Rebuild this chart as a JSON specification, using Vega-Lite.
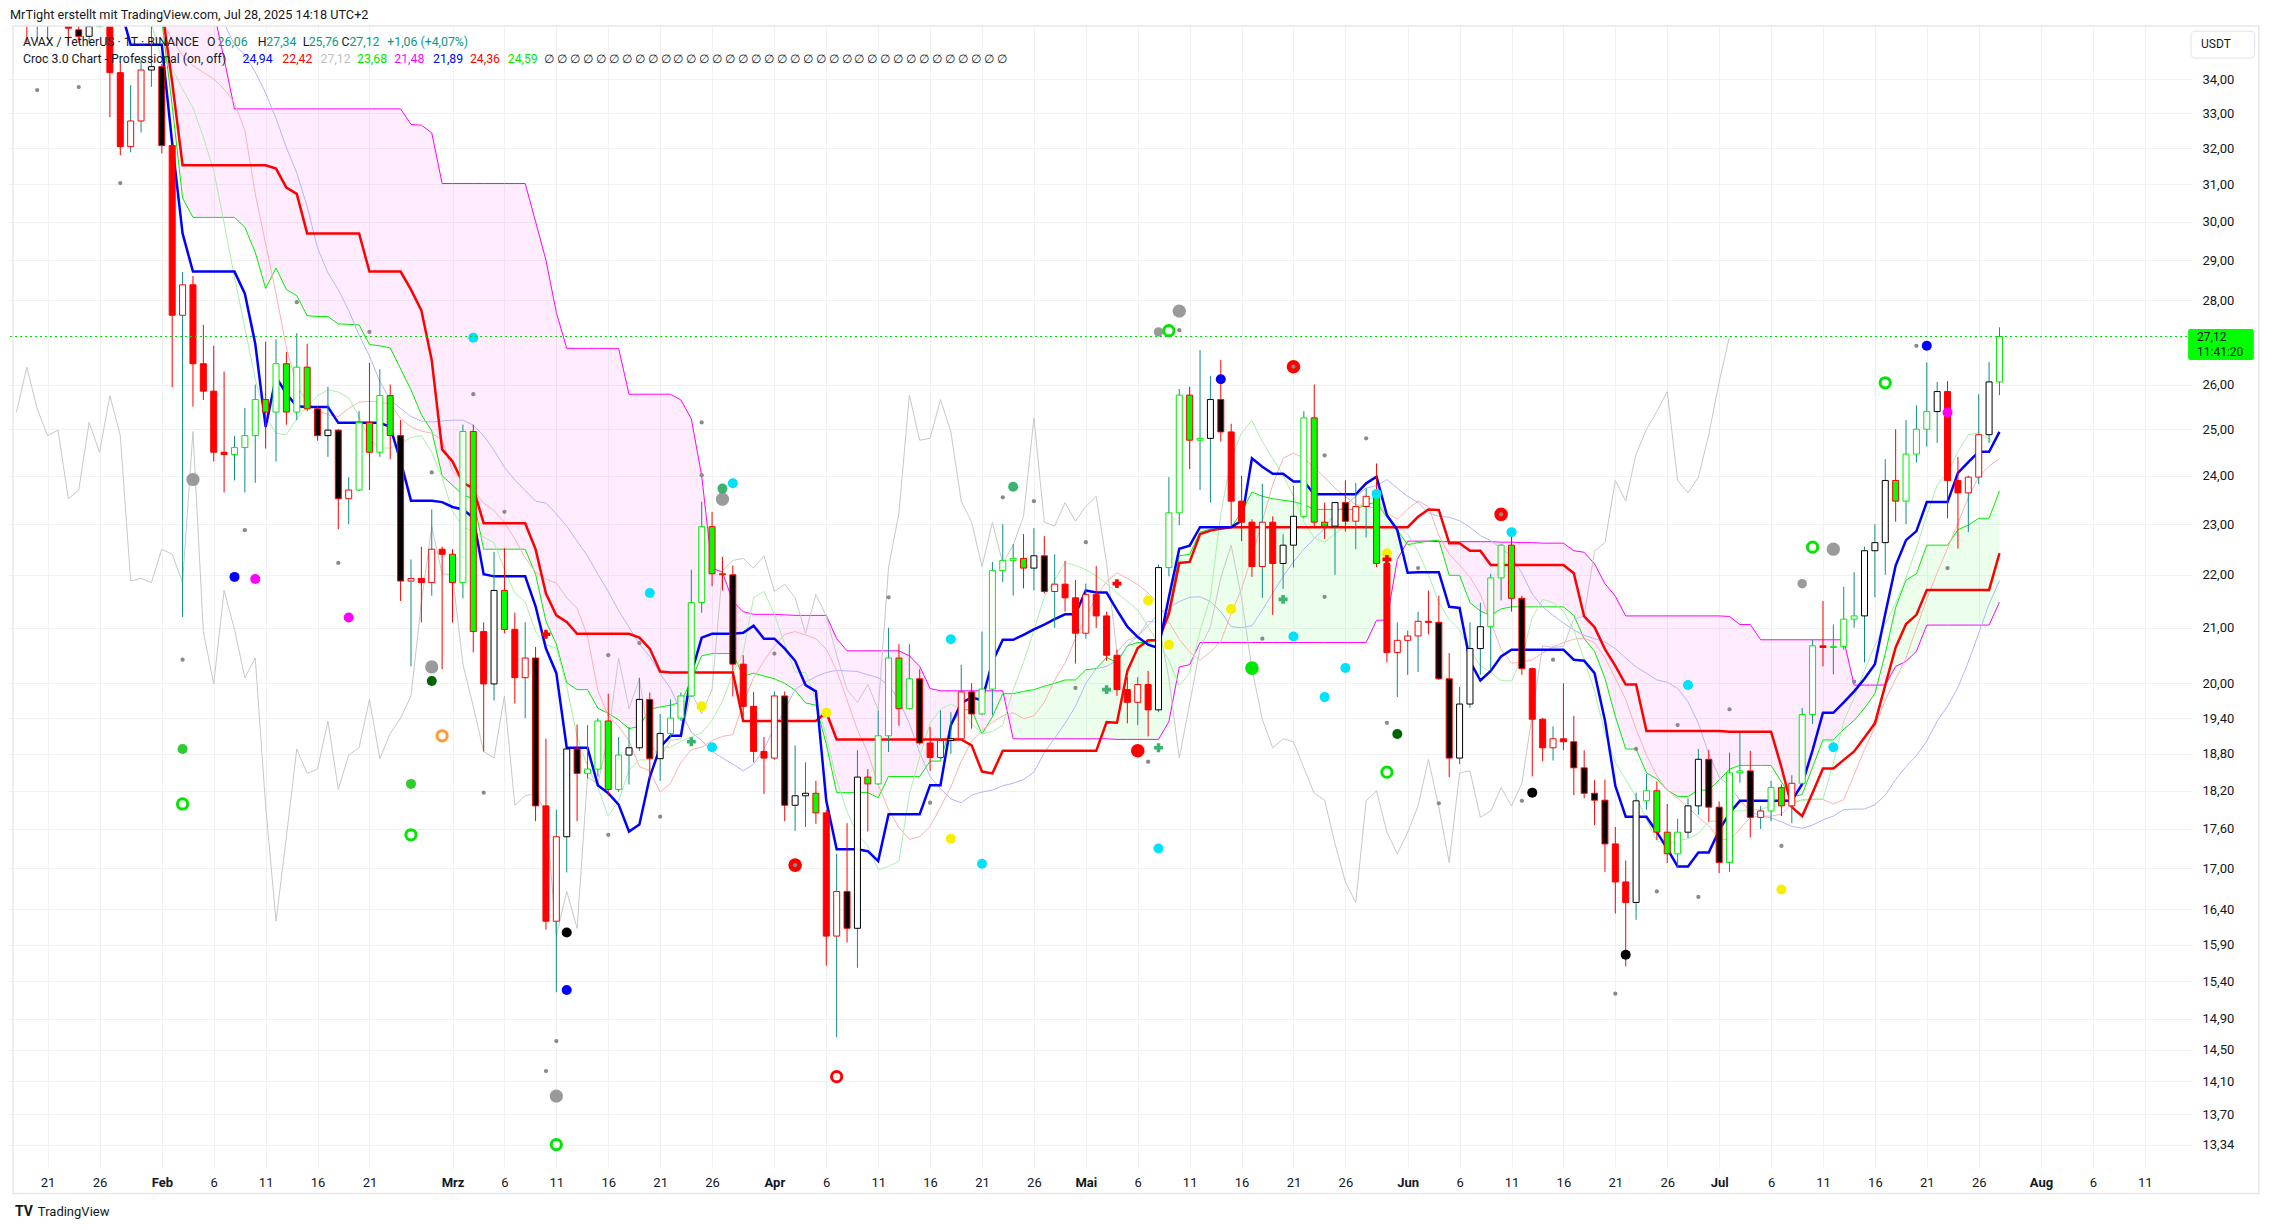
{
"$schema": "https://vega.github.io/schema/vega-lite/v6.json",
"width": 2184,
"height": 1141,
"autosize": {"type": "none"},
"padding": {"left": 8, "top": 26, "right": 82, "bottom": 63},
"background": "#ffffff",
"config": {"view": {"stroke": null}, "font": "Roboto"},
"resolve": {"scale": {"color": "independent"}},
"title": {"text": "MrTight erstellt mit TradingView.com, Jul 28, 2025 14:18 UTC+2", "anchor": "start", "frame": "group", "fontSize": 12.7, "fontWeight": "normal", "color": "#131722", "font": "Roboto", "offset": 4, "dx": 2},
"datasets": {
"c": [
{"d":"2025-01-17","o":38.0,"h":39.5,"l":36.6,"c":38.6,"s":"g"},
{"d":"2025-01-18","o":38.6,"h":38.9,"l":36.0,"c":36.9,"s":"R"},
{"d":"2025-01-19","o":36.9,"h":37.5,"l":35.1,"c":35.9,"s":"R"},
{"d":"2025-01-20","o":35.9,"h":37.5,"l":35.1,"c":36.6,"s":"g"},
{"d":"2025-01-21","o":36.6,"h":37.8,"l":35.2,"c":37.0,"s":"g"},
{"d":"2025-01-22","o":37.0,"h":37.3,"l":35.8,"c":36.0,"s":"R"},
{"d":"2025-01-23","o":36.0,"h":36.4,"l":35.1,"c":35.55,"s":"R"},
{"d":"2025-01-24","o":35.5,"h":36.0,"l":35.1,"c":35.3,"s":"K"},
{"d":"2025-01-25","o":35.3,"h":36.2,"l":35.1,"c":35.6,"s":"k"},
{"d":"2025-01-26","o":35.6,"h":36.8,"l":35.58,"c":36.4,"s":"g"},
{"d":"2025-01-27","o":36.4,"h":36.8,"l":32.88,"c":34.19,"s":"R"},
{"d":"2025-01-28","o":34.19,"h":34.5,"l":31.8,"c":32.04,"s":"R"},
{"d":"2025-01-29","o":32.04,"h":33.82,"l":31.88,"c":32.77,"s":"r"},
{"d":"2025-01-30","o":32.77,"h":34.58,"l":32.44,"c":34.27,"s":"r"},
{"d":"2025-01-31","o":34.27,"h":35.9,"l":33.77,"c":34.37,"s":"k"},
{"d":"2025-02-01","o":34.37,"h":34.45,"l":31.85,"c":32.07,"s":"K"},
{"d":"2025-02-02","o":32.07,"h":32.1,"l":25.94,"c":27.63,"s":"R"},
{"d":"2025-02-03","o":27.63,"h":28.7,"l":21.2,"c":28.38,"s":"r"},
{"d":"2025-02-04","o":28.38,"h":28.6,"l":25.5,"c":26.48,"s":"R"},
{"d":"2025-02-05","o":26.48,"h":27.4,"l":25.65,"c":25.85,"s":"R"},
{"d":"2025-02-06","o":25.85,"h":26.9,"l":24.3,"c":24.5,"s":"R"},
{"d":"2025-02-07","o":24.5,"h":26.3,"l":23.65,"c":24.45,"s":"R"},
{"d":"2025-02-08","o":24.45,"h":24.85,"l":23.9,"c":24.6,"s":"g"},
{"d":"2025-02-09","o":24.6,"h":25.47,"l":23.65,"c":24.86,"s":"g"},
{"d":"2025-02-10","o":24.86,"h":26.0,"l":23.85,"c":25.66,"s":"g"},
{"d":"2025-02-11","o":25.66,"h":27.0,"l":24.58,"c":25.38,"s":"G"},
{"d":"2025-02-12","o":25.38,"h":27.05,"l":24.3,"c":26.48,"s":"g"},
{"d":"2025-02-13","o":26.48,"h":26.75,"l":25.1,"c":25.38,"s":"G"},
{"d":"2025-02-14","o":25.38,"h":27.2,"l":25.2,"c":26.4,"s":"g"},
{"d":"2025-02-15","o":26.4,"h":26.95,"l":25.4,"c":25.45,"s":"G"},
{"d":"2025-02-16","o":25.45,"h":25.5,"l":24.75,"c":24.86,"s":"K"},
{"d":"2025-02-17","o":24.86,"h":25.95,"l":24.4,"c":24.98,"s":"k"},
{"d":"2025-02-18","o":24.98,"h":25.0,"l":22.9,"c":23.52,"s":"K"},
{"d":"2025-02-19","o":23.52,"h":23.97,"l":23.0,"c":23.7,"s":"r"},
{"d":"2025-02-20","o":23.7,"h":25.4,"l":23.68,"c":25.15,"s":"g"},
{"d":"2025-02-21","o":25.15,"h":26.5,"l":23.7,"c":24.5,"s":"G"},
{"d":"2025-02-22","o":24.5,"h":26.35,"l":24.4,"c":25.75,"s":"g"},
{"d":"2025-02-23","o":25.75,"h":26.0,"l":24.35,"c":24.86,"s":"G"},
{"d":"2025-02-24","o":24.86,"h":25.2,"l":21.5,"c":21.88,"s":"K"},
{"d":"2025-02-25","o":21.88,"h":22.3,"l":20.3,"c":21.93,"s":"r"},
{"d":"2025-02-26","o":21.93,"h":22.55,"l":21.1,"c":21.85,"s":"R"},
{"d":"2025-02-27","o":21.85,"h":23.3,"l":21.6,"c":22.5,"s":"r"},
{"d":"2025-02-28","o":22.5,"h":22.55,"l":20.25,"c":22.4,"s":"R"},
{"d":"2025-03-01","o":22.4,"h":22.5,"l":21.1,"c":21.85,"s":"G"},
{"d":"2025-03-02","o":21.85,"h":25.1,"l":21.55,"c":24.95,"s":"g"},
{"d":"2025-03-03","o":24.95,"h":25.1,"l":20.55,"c":20.93,"s":"G"},
{"d":"2025-03-04","o":20.93,"h":21.1,"l":18.84,"c":19.99,"s":"R"},
{"d":"2025-03-05","o":19.99,"h":22.45,"l":19.7,"c":21.7,"s":"k"},
{"d":"2025-03-06","o":21.7,"h":22.52,"l":20.9,"c":20.97,"s":"G"},
{"d":"2025-03-07","o":20.97,"h":21.28,"l":19.65,"c":20.1,"s":"R"},
{"d":"2025-03-08","o":20.1,"h":21.1,"l":19.4,"c":20.45,"s":"r"},
{"d":"2025-03-09","o":20.45,"h":20.65,"l":17.72,"c":17.96,"s":"K"},
{"d":"2025-03-10","o":17.96,"h":19.05,"l":16.11,"c":16.23,"s":"R"},
{"d":"2025-03-11","o":16.23,"h":17.9,"l":15.25,"c":17.48,"s":"r"},
{"d":"2025-03-12","o":17.48,"h":18.88,"l":16.94,"c":18.88,"s":"k"},
{"d":"2025-03-13","o":18.88,"h":19.29,"l":17.72,"c":18.48,"s":"K"},
{"d":"2025-03-14","o":18.48,"h":19.28,"l":18.4,"c":18.55,"s":"g"},
{"d":"2025-03-15","o":18.55,"h":19.4,"l":18.43,"c":19.35,"s":"g"},
{"d":"2025-03-16","o":19.35,"h":19.82,"l":18.12,"c":18.22,"s":"G"},
{"d":"2025-03-17","o":18.22,"h":19.08,"l":18.18,"c":18.78,"s":"g"},
{"d":"2025-03-18","o":18.78,"h":19.25,"l":18.3,"c":18.9,"s":"k"},
{"d":"2025-03-19","o":18.9,"h":20.1,"l":18.85,"c":19.72,"s":"k"},
{"d":"2025-03-20","o":19.72,"h":19.84,"l":18.39,"c":18.72,"s":"K"},
{"d":"2025-03-21","o":18.72,"h":19.47,"l":18.36,"c":19.14,"s":"k"},
{"d":"2025-03-22","o":19.14,"h":19.72,"l":19.08,"c":19.4,"s":"g"},
{"d":"2025-03-23","o":19.4,"h":19.84,"l":19.35,"c":19.78,"s":"g"},
{"d":"2025-03-24","o":19.78,"h":22.1,"l":19.76,"c":21.47,"s":"g"},
{"d":"2025-03-25","o":21.47,"h":23.46,"l":21.28,"c":22.95,"s":"g"},
{"d":"2025-03-26","o":22.95,"h":23.25,"l":21.78,"c":22.02,"s":"G"},
{"d":"2025-03-27","o":22.02,"h":22.35,"l":21.7,"c":22.0,"s":"G"},
{"d":"2025-03-28","o":22.0,"h":22.18,"l":19.77,"c":20.34,"s":"K"},
{"d":"2025-03-29","o":20.34,"h":20.5,"l":19.43,"c":19.6,"s":"R"},
{"d":"2025-03-30","o":19.6,"h":19.85,"l":18.66,"c":18.84,"s":"R"},
{"d":"2025-03-31","o":18.84,"h":19.08,"l":18.15,"c":18.73,"s":"R"},
{"d":"2025-04-01","o":18.73,"h":19.86,"l":18.7,"c":19.78,"s":"r"},
{"d":"2025-04-02","o":19.78,"h":19.86,"l":17.72,"c":17.97,"s":"K"},
{"d":"2025-04-03","o":17.97,"h":18.94,"l":17.57,"c":18.12,"s":"k"},
{"d":"2025-04-04","o":18.12,"h":18.66,"l":17.63,"c":18.16,"s":"k"},
{"d":"2025-04-05","o":18.16,"h":18.36,"l":17.68,"c":17.85,"s":"G"},
{"d":"2025-04-06","o":17.85,"h":17.9,"l":15.61,"c":16.02,"s":"R"},
{"d":"2025-04-07","o":16.02,"h":17.22,"l":14.66,"c":16.66,"s":"r"},
{"d":"2025-04-08","o":16.66,"h":17.69,"l":15.93,"c":16.13,"s":"K"},
{"d":"2025-04-09","o":16.13,"h":18.86,"l":15.58,"c":18.42,"s":"k"},
{"d":"2025-04-10","o":18.42,"h":18.55,"l":17.56,"c":18.31,"s":"G"},
{"d":"2025-04-11","o":18.31,"h":19.53,"l":18.3,"c":19.1,"s":"g"},
{"d":"2025-04-12","o":19.1,"h":21.0,"l":18.83,"c":20.45,"s":"g"},
{"d":"2025-04-13","o":20.45,"h":20.7,"l":19.27,"c":19.56,"s":"G"},
{"d":"2025-04-14","o":19.56,"h":20.7,"l":19.55,"c":20.08,"s":"g"},
{"d":"2025-04-15","o":20.08,"h":20.25,"l":18.95,"c":18.98,"s":"K"},
{"d":"2025-04-16","o":18.98,"h":19.25,"l":18.52,"c":18.74,"s":"R"},
{"d":"2025-04-17","o":18.74,"h":19.53,"l":18.72,"c":19.02,"s":"r"},
{"d":"2025-04-18","o":19.02,"h":19.5,"l":18.8,"c":19.05,"s":"k"},
{"d":"2025-04-19","o":19.05,"h":20.33,"l":19.02,"c":19.85,"s":"r"},
{"d":"2025-04-20","o":19.85,"h":20.0,"l":19.22,"c":19.47,"s":"K"},
{"d":"2025-04-21","o":19.47,"h":20.93,"l":19.45,"c":19.9,"s":"g"},
{"d":"2025-04-22","o":19.9,"h":22.25,"l":19.45,"c":22.08,"s":"g"},
{"d":"2025-04-23","o":22.08,"h":23.0,"l":21.86,"c":22.28,"s":"g"},
{"d":"2025-04-24","o":22.28,"h":22.6,"l":21.6,"c":22.32,"s":"g"},
{"d":"2025-04-25","o":22.32,"h":22.8,"l":21.74,"c":22.13,"s":"G"},
{"d":"2025-04-26","o":22.13,"h":22.92,"l":21.7,"c":22.37,"s":"k"},
{"d":"2025-04-27","o":22.37,"h":22.76,"l":21.64,"c":21.68,"s":"K"},
{"d":"2025-04-28","o":21.68,"h":22.4,"l":21.0,"c":21.82,"s":"r"},
{"d":"2025-04-29","o":21.82,"h":22.27,"l":21.3,"c":21.56,"s":"R"},
{"d":"2025-04-30","o":21.56,"h":21.9,"l":20.35,"c":20.9,"s":"R"},
{"d":"2025-05-01","o":20.9,"h":21.83,"l":20.8,"c":21.62,"s":"r"},
{"d":"2025-05-02","o":21.62,"h":22.17,"l":21.0,"c":21.22,"s":"R"},
{"d":"2025-05-03","o":21.22,"h":21.3,"l":20.4,"c":20.5,"s":"R"},
{"d":"2025-05-04","o":20.5,"h":20.6,"l":19.78,"c":19.89,"s":"R"},
{"d":"2025-05-05","o":19.89,"h":20.11,"l":19.31,"c":19.67,"s":"R"},
{"d":"2025-05-06","o":19.67,"h":20.11,"l":19.28,"c":19.98,"s":"r"},
{"d":"2025-05-07","o":19.98,"h":20.22,"l":19.09,"c":19.54,"s":"R"},
{"d":"2025-05-08","o":19.54,"h":22.2,"l":19.5,"c":22.14,"s":"k"},
{"d":"2025-05-09","o":22.14,"h":23.97,"l":21.97,"c":23.23,"s":"g"},
{"d":"2025-05-10","o":23.23,"h":25.9,"l":22.98,"c":25.76,"s":"g"},
{"d":"2025-05-11","o":25.76,"h":25.95,"l":24.14,"c":24.76,"s":"G"},
{"d":"2025-05-12","o":24.76,"h":26.8,"l":23.7,"c":24.8,"s":"g"},
{"d":"2025-05-13","o":24.8,"h":26.2,"l":23.44,"c":25.66,"s":"k"},
{"d":"2025-05-14","o":25.66,"h":26.57,"l":24.73,"c":24.94,"s":"K"},
{"d":"2025-05-15","o":24.94,"h":25.12,"l":22.98,"c":23.47,"s":"R"},
{"d":"2025-05-16","o":23.47,"h":24.0,"l":22.66,"c":23.04,"s":"R"},
{"d":"2025-05-17","o":23.04,"h":23.1,"l":21.96,"c":22.16,"s":"R"},
{"d":"2025-05-18","o":22.16,"h":23.83,"l":21.56,"c":23.04,"s":"r"},
{"d":"2025-05-19","o":23.04,"h":23.16,"l":21.24,"c":22.22,"s":"R"},
{"d":"2025-05-20","o":22.22,"h":22.8,"l":21.73,"c":22.58,"s":"k"},
{"d":"2025-05-21","o":22.58,"h":23.79,"l":22.14,"c":23.16,"s":"k"},
{"d":"2025-05-22","o":23.16,"h":25.4,"l":23.12,"c":25.25,"s":"g"},
{"d":"2025-05-23","o":25.25,"h":26.0,"l":22.94,"c":23.04,"s":"G"},
{"d":"2025-05-24","o":23.04,"h":23.44,"l":22.7,"c":22.96,"s":"G"},
{"d":"2025-05-25","o":22.96,"h":23.45,"l":22.0,"c":23.44,"s":"k"},
{"d":"2025-05-26","o":23.44,"h":23.9,"l":22.85,"c":23.06,"s":"K"},
{"d":"2025-05-27","o":23.06,"h":23.85,"l":22.5,"c":23.36,"s":"r"},
{"d":"2025-05-28","o":23.36,"h":23.74,"l":22.73,"c":23.57,"s":"r"},
{"d":"2025-05-29","o":23.57,"h":24.26,"l":22.15,"c":22.22,"s":"G"},
{"d":"2025-05-30","o":22.22,"h":22.33,"l":20.37,"c":20.55,"s":"R"},
{"d":"2025-05-31","o":20.55,"h":21.1,"l":19.76,"c":20.77,"s":"r"},
{"d":"2025-06-01","o":20.77,"h":20.95,"l":20.15,"c":20.85,"s":"r"},
{"d":"2025-06-02","o":20.85,"h":21.3,"l":20.2,"c":21.12,"s":"r"},
{"d":"2025-06-03","o":21.12,"h":21.7,"l":20.88,"c":21.1,"s":"R"},
{"d":"2025-06-04","o":21.1,"h":21.6,"l":20.06,"c":20.08,"s":"K"},
{"d":"2025-06-05","o":20.08,"h":20.54,"l":18.42,"c":18.73,"s":"K"},
{"d":"2025-06-06","o":18.73,"h":19.94,"l":18.63,"c":19.64,"s":"k"},
{"d":"2025-06-07","o":19.64,"h":21.1,"l":19.57,"c":20.62,"s":"k"},
{"d":"2025-06-08","o":20.62,"h":21.47,"l":20.15,"c":21.02,"s":"k"},
{"d":"2025-06-09","o":21.02,"h":22.02,"l":20.24,"c":21.94,"s":"g"},
{"d":"2025-06-10","o":21.94,"h":22.6,"l":21.51,"c":22.58,"s":"g"},
{"d":"2025-06-11","o":22.58,"h":22.8,"l":21.3,"c":21.55,"s":"G"},
{"d":"2025-06-12","o":21.55,"h":21.6,"l":20.15,"c":20.26,"s":"K"},
{"d":"2025-06-13","o":20.26,"h":20.28,"l":18.43,"c":19.38,"s":"R"},
{"d":"2025-06-14","o":19.38,"h":19.4,"l":18.68,"c":18.9,"s":"R"},
{"d":"2025-06-15","o":18.9,"h":19.26,"l":18.69,"c":19.05,"s":"r"},
{"d":"2025-06-16","o":19.05,"h":20.0,"l":18.86,"c":19.0,"s":"R"},
{"d":"2025-06-17","o":19.0,"h":19.44,"l":18.13,"c":18.57,"s":"K"},
{"d":"2025-06-18","o":18.57,"h":18.86,"l":18.08,"c":18.16,"s":"K"},
{"d":"2025-06-19","o":18.16,"h":18.37,"l":17.66,"c":18.05,"s":"K"},
{"d":"2025-06-20","o":18.05,"h":18.38,"l":16.95,"c":17.37,"s":"K"},
{"d":"2025-06-21","o":17.37,"h":17.63,"l":16.34,"c":16.8,"s":"R"},
{"d":"2025-06-22","o":16.8,"h":17.12,"l":15.6,"c":16.5,"s":"R"},
{"d":"2025-06-23","o":16.5,"h":18.17,"l":16.25,"c":18.04,"s":"k"},
{"d":"2025-06-24","o":18.04,"h":18.47,"l":17.9,"c":18.2,"s":"g"},
{"d":"2025-06-25","o":18.2,"h":18.35,"l":17.43,"c":17.55,"s":"G"},
{"d":"2025-06-26","o":17.55,"h":17.99,"l":17.08,"c":17.22,"s":"G"},
{"d":"2025-06-27","o":17.22,"h":17.76,"l":17.02,"c":17.55,"s":"g"},
{"d":"2025-06-28","o":17.55,"h":18.08,"l":17.46,"c":17.96,"s":"k"},
{"d":"2025-06-29","o":17.96,"h":18.88,"l":17.82,"c":18.71,"s":"k"},
{"d":"2025-06-30","o":18.71,"h":18.86,"l":17.71,"c":17.94,"s":"K"},
{"d":"2025-07-01","o":17.94,"h":18.03,"l":16.93,"c":17.09,"s":"K"},
{"d":"2025-07-02","o":17.09,"h":18.82,"l":16.95,"c":18.49,"s":"g"},
{"d":"2025-07-03","o":18.49,"h":19.15,"l":18.33,"c":18.52,"s":"g"},
{"d":"2025-07-04","o":18.52,"h":18.85,"l":17.47,"c":17.78,"s":"K"},
{"d":"2025-07-05","o":17.78,"h":17.96,"l":17.6,"c":17.88,"s":"r"},
{"d":"2025-07-06","o":17.88,"h":18.36,"l":17.72,"c":18.25,"s":"g"},
{"d":"2025-07-07","o":18.25,"h":18.3,"l":17.8,"c":17.96,"s":"G"},
{"d":"2025-07-08","o":17.96,"h":18.45,"l":17.69,"c":18.32,"s":"r"},
{"d":"2025-07-09","o":18.32,"h":19.57,"l":18.3,"c":19.46,"s":"g"},
{"d":"2025-07-10","o":19.46,"h":20.78,"l":19.3,"c":20.67,"s":"g"},
{"d":"2025-07-11","o":20.67,"h":21.5,"l":20.3,"c":20.64,"s":"R"},
{"d":"2025-07-12","o":20.64,"h":21.06,"l":20.16,"c":20.66,"s":"g"},
{"d":"2025-07-13","o":20.66,"h":21.77,"l":20.6,"c":21.16,"s":"g"},
{"d":"2025-07-14","o":21.16,"h":22.05,"l":21.0,"c":21.22,"s":"g"},
{"d":"2025-07-15","o":21.22,"h":22.55,"l":20.37,"c":22.47,"s":"k"},
{"d":"2025-07-16","o":22.47,"h":23.0,"l":21.57,"c":22.63,"s":"k"},
{"d":"2025-07-17","o":22.63,"h":24.35,"l":22.0,"c":23.9,"s":"k"},
{"d":"2025-07-18","o":23.9,"h":25.0,"l":23.05,"c":23.47,"s":"G"},
{"d":"2025-07-19","o":23.47,"h":25.2,"l":23.0,"c":24.46,"s":"g"},
{"d":"2025-07-20","o":24.46,"h":25.53,"l":24.28,"c":25.0,"s":"g"},
{"d":"2025-07-21","o":25.0,"h":26.51,"l":24.62,"c":25.39,"s":"g"},
{"d":"2025-07-22","o":25.39,"h":26.06,"l":24.7,"c":25.84,"s":"k"},
{"d":"2025-07-23","o":25.84,"h":26.08,"l":23.12,"c":23.9,"s":"R"},
{"d":"2025-07-24","o":23.9,"h":24.4,"l":22.51,"c":23.64,"s":"R"},
{"d":"2025-07-25","o":23.64,"h":24.0,"l":22.84,"c":23.97,"s":"r"},
{"d":"2025-07-26","o":23.97,"h":25.78,"l":23.82,"c":24.88,"s":"r"},
{"d":"2025-07-27","o":24.88,"h":26.52,"l":24.7,"c":26.06,"s":"k"},
{"d":"2025-07-28","o":26.06,"h":27.34,"l":25.76,"c":27.12,"s":"g"}
],
"ln": [
{"d":"2025-01-17","tk":37,"kj":37.5,"sa":37,"sb":39,"lr":37.5,"lg":37,"lv":38.5,"g":1},
{"d":"2025-01-18","tk":37,"kj":37.5,"sa":37,"sb":39,"lr":37.5,"lg":37,"lv":38.5,"lag":25.38,"g":1},
{"d":"2025-01-19","tk":37,"kj":37.5,"sa":37,"sb":39,"lr":37.5,"lg":37,"lv":38.5,"lag":26.4,"g":1},
{"d":"2025-01-20","tk":37,"kj":37.5,"sa":37,"sb":39,"lr":37.5,"lg":37,"lv":38.5,"lag":25.45,"g":1},
{"d":"2025-01-21","tk":37,"kj":37.5,"sa":37,"sb":39,"lr":37.5,"lg":37,"lv":38.5,"lag":24.86,"g":1},
{"d":"2025-01-22","tk":37,"kj":37.5,"sa":37,"sb":39,"lr":37.5,"lg":37,"lv":38.5,"lag":24.98,"g":1},
{"d":"2025-01-23","tk":37,"kj":37.5,"sa":37,"sb":39,"lr":37.5,"lg":37,"lv":38.5,"lag":23.52,"g":1},
{"d":"2025-01-24","tk":37,"kj":37.5,"sa":37,"sb":39,"lr":37.5,"lg":37,"lv":38.5,"lag":23.7,"g":1},
{"d":"2025-01-25","tk":37,"kj":37.5,"sa":37,"sb":39,"lr":37.5,"lg":37,"lv":38.5,"lag":25.15,"g":1},
{"d":"2025-01-26","tk":37,"kj":37.5,"sa":37,"sb":39,"lr":37.5,"lg":37,"lv":38.5,"lag":24.5,"g":1},
{"d":"2025-01-27","tk":36.8,"kj":37.5,"sa":37,"sb":39,"lr":37.5,"lg":37,"lv":38.5,"lag":25.75,"g":1},
{"d":"2025-01-28","tk":36.2,"kj":37.5,"sa":37,"sb":39,"lr":37.5,"lg":37,"lv":38.5,"lag":24.86,"g":1},
{"d":"2025-01-29","tk":35.04,"kj":37.5,"sa":37,"sb":39,"lr":37.5,"lg":37,"lv":38.5,"lag":21.88,"g":1},
{"d":"2025-01-30","tk":35.04,"kj":37.5,"sa":37,"sb":39,"lr":37.5,"lg":37,"lv":38.5,"lag":21.93,"g":1},
{"d":"2025-01-31","tk":35.04,"kj":37.5,"sa":37,"sb":39,"lr":37.5,"lg":35.7,"lv":38.5,"lag":21.85,"g":1},
{"d":"2025-02-01","tk":35.04,"kj":36.2,"sa":35.8,"sb":39,"lr":35.8,"lg":34.6,"lv":37.5,"lag":22.5,"g":1},
{"d":"2025-02-02","tk":32.13,"kj":33.9,"sa":33.21,"sb":39,"lr":35.2,"lg":34.3,"lv":37.2,"lag":22.4,"g":1},
{"d":"2025-02-03","tk":29.69,"kj":31.52,"sa":30.63,"sb":38.5,"lr":34.7,"lg":33.71,"lv":36.9,"lag":21.85,"g":1},
{"d":"2025-02-04","tk":28.71,"kj":31.52,"sa":30.11,"sb":38,"lr":34.4,"lg":33.15,"lv":36.6,"lag":24.95,"g":1},
{"d":"2025-02-05","tk":28.71,"kj":31.52,"sa":30.11,"sb":37.5,"lr":34.2,"lg":32.31,"lv":36.4,"lag":20.93,"g":1},
{"d":"2025-02-06","tk":28.71,"kj":31.52,"sa":30.11,"sb":36.1,"lr":34.0,"lg":31.37,"lv":36.2,"lag":19.99,"g":1},
{"d":"2025-02-07","tk":28.71,"kj":31.52,"sa":30.11,"sb":34.6,"lr":33.7,"lg":29.96,"lv":35.7,"lag":21.7,"g":1},
{"d":"2025-02-08","tk":28.71,"kj":31.52,"sa":30.11,"sb":33.12,"lr":33.3,"lg":28.57,"lv":35.04,"lag":20.97,"g":1},
{"d":"2025-02-09","tk":28.16,"kj":31.52,"sa":29.85,"sb":33.12,"lr":32.5,"lg":27.33,"lv":34.72,"lag":20.1,"g":1},
{"d":"2025-02-10","tk":26.95,"kj":31.52,"sa":29.2,"sb":33.12,"lr":30.74,"lg":26.12,"lv":34.21,"lag":20.45,"g":1},
{"d":"2025-02-11","tk":25.05,"kj":31.52,"sa":28.29,"sb":33.12,"lr":29.42,"lg":25.28,"lv":33.58,"lag":17.96,"g":1},
{"d":"2025-02-12","tk":26.17,"kj":31.43,"sa":28.8,"sb":33.12,"lr":28.16,"lg":24.91,"lv":32.85,"lag":16.23,"g":1},
{"d":"2025-02-13","tk":25.79,"kj":30.91,"sa":28.26,"sb":33.12,"lr":26.85,"lg":24.88,"lv":32.01,"lag":17.48,"g":1},
{"d":"2025-02-14","tk":25.51,"kj":30.74,"sa":28.11,"sb":33.12,"lr":25.98,"lg":25.23,"lv":31.31,"lag":18.88,"g":1},
{"d":"2025-02-15","tk":25.49,"kj":29.69,"sa":27.62,"sb":33.12,"lr":25.6,"lg":25.51,"lv":30.4,"lag":18.48,"g":1},
{"d":"2025-02-16","tk":25.49,"kj":29.69,"sa":27.6,"sb":33.12,"lr":25.42,"lg":25.74,"lv":29.31,"lag":18.55,"g":1},
{"d":"2025-02-17","tk":25.49,"kj":29.69,"sa":27.6,"sb":33.12,"lr":25.32,"lg":25.88,"lv":28.68,"lag":19.35,"g":1},
{"d":"2025-02-18","tk":25.14,"kj":29.69,"sa":27.42,"sb":33.12,"lr":25.28,"lg":25.83,"lv":28.26,"lag":18.22,"g":1},
{"d":"2025-02-19","tk":25.14,"kj":29.69,"sa":27.41,"sb":33.12,"lr":25.46,"lg":25.7,"lv":27.75,"lag":18.78,"g":1},
{"d":"2025-02-20","tk":25.14,"kj":29.69,"sa":27.4,"sb":33.12,"lr":25.6,"lg":25.28,"lv":27.15,"lag":18.9,"g":1},
{"d":"2025-02-21","tk":25.14,"kj":28.71,"sa":26.93,"sb":33.12,"lr":25.62,"lg":24.77,"lv":26.66,"lag":19.72,"g":1},
{"d":"2025-02-22","tk":25.14,"kj":28.71,"sa":26.9,"sb":33.12,"lr":25.6,"lg":24.59,"lv":26.07,"lag":18.72,"g":1},
{"d":"2025-02-23","tk":25.05,"kj":28.71,"sa":26.85,"sb":33.12,"lr":25.56,"lg":24.59,"lv":25.65,"lag":19.14,"g":1},
{"d":"2025-02-24","tk":24.31,"kj":28.71,"sa":26.36,"sb":33.12,"lr":25.23,"lg":24.68,"lv":25.46,"lag":19.4,"g":1},
{"d":"2025-02-25","tk":23.48,"kj":28.26,"sa":25.88,"sb":32.67,"lr":25.05,"lg":24.82,"lv":25.28,"lag":19.78,"g":1},
{"d":"2025-02-26","tk":23.48,"kj":27.75,"sa":25.32,"sb":32.65,"lr":24.96,"lg":24.86,"lv":25.18,"lag":21.47,"g":1},
{"d":"2025-02-27","tk":23.48,"kj":26.56,"sa":24.96,"sb":32.43,"lr":24.91,"lg":24.5,"lv":25.16,"lag":22.95,"g":1},
{"d":"2025-02-28","tk":23.45,"kj":24.56,"sa":24.0,"sb":31.02,"lr":24.77,"lg":23.96,"lv":25.18,"lag":22.02,"g":1},
{"d":"2025-03-01","tk":23.35,"kj":24.3,"sa":23.8,"sb":31.02,"lr":24.1,"lg":23.26,"lv":25.2,"lag":22.0,"g":1},
{"d":"2025-03-02","tk":23.3,"kj":23.85,"sa":23.6,"sb":31.02,"lr":23.9,"lg":22.95,"lv":25.2,"lag":20.34,"g":1},
{"d":"2025-03-03","tk":23.13,"kj":23.74,"sa":23.52,"sb":31.02,"lr":23.69,"lg":22.85,"lv":25.09,"lag":19.6,"g":1},
{"d":"2025-03-04","tk":22.01,"kj":23.02,"sa":22.5,"sb":31.02,"lr":23.43,"lg":22.74,"lv":24.86,"lag":18.84,"g":1},
{"d":"2025-03-05","tk":21.97,"kj":23.02,"sa":22.5,"sb":31.02,"lr":23.28,"lg":22.63,"lv":24.54,"lag":18.73,"g":1},
{"d":"2025-03-06","tk":21.97,"kj":23.02,"sa":22.5,"sb":31.02,"lr":23.03,"lg":22.11,"lv":24.18,"lag":19.78,"g":1},
{"d":"2025-03-07","tk":21.97,"kj":23.02,"sa":22.5,"sb":31.02,"lr":22.71,"lg":21.65,"lv":23.91,"lag":17.97,"g":1},
{"d":"2025-03-08","tk":21.97,"kj":23.02,"sa":22.5,"sb":31.02,"lr":22.33,"lg":21.48,"lv":23.69,"lag":18.12,"g":1},
{"d":"2025-03-09","tk":21.4,"kj":22.5,"sa":22.01,"sb":30.0,"lr":22.05,"lg":20.93,"lv":23.47,"lag":18.16,"g":1},
{"d":"2025-03-10","tk":20.62,"kj":21.64,"sa":21.12,"sb":29.0,"lr":21.92,"lg":20.69,"lv":23.43,"lag":17.85,"g":1},
{"d":"2025-03-11","tk":20.18,"kj":21.23,"sa":20.7,"sb":27.7,"lr":21.84,"lg":20.63,"lv":23.21,"lag":16.02,"g":1},
{"d":"2025-03-12","tk":18.9,"kj":21.11,"sa":20.01,"sb":26.84,"lr":21.56,"lg":19.95,"lv":22.96,"lag":16.66,"g":1},
{"d":"2025-03-13","tk":18.9,"kj":20.89,"sa":19.89,"sb":26.84,"lr":21.36,"lg":19.08,"lv":22.66,"lag":16.13,"g":1},
{"d":"2025-03-14","tk":18.9,"kj":20.89,"sa":19.89,"sb":26.84,"lr":20.85,"lg":18.6,"lv":22.37,"lag":18.42,"g":1},
{"d":"2025-03-15","tk":18.29,"kj":20.89,"sa":19.57,"sb":26.84,"lr":19.87,"lg":18.25,"lv":22.01,"lag":18.31,"g":1},
{"d":"2025-03-16","tk":18.16,"kj":20.89,"sa":19.48,"sb":26.84,"lr":19.44,"lg":17.8,"lv":21.68,"lag":19.1,"g":1},
{"d":"2025-03-17","tk":17.98,"kj":20.89,"sa":19.37,"sb":26.84,"lr":19.26,"lg":18.04,"lv":21.32,"lag":20.45,"g":1},
{"d":"2025-03-18","tk":17.56,"kj":20.89,"sa":19.22,"sb":25.78,"lr":19.02,"lg":18.53,"lv":21.01,"lag":19.56,"g":1},
{"d":"2025-03-19","tk":17.67,"kj":20.82,"sa":19.26,"sb":25.78,"lr":18.59,"lg":18.7,"lv":20.7,"lag":20.08,"g":1},
{"d":"2025-03-20","tk":18.42,"kj":20.62,"sa":19.55,"sb":25.78,"lr":18.52,"lg":18.7,"lv":20.48,"lag":18.98,"g":1},
{"d":"2025-03-21","tk":18.91,"kj":20.21,"sa":19.59,"sb":25.78,"lr":18.18,"lg":18.91,"lv":20.17,"lag":18.74,"g":1},
{"d":"2025-03-22","tk":19.1,"kj":20.19,"sa":19.62,"sb":25.78,"lr":18.32,"lg":18.91,"lv":19.91,"lag":19.02,"g":1},
{"d":"2025-03-23","tk":19.1,"kj":20.19,"sa":19.67,"sb":25.65,"lr":18.66,"lg":19.01,"lv":19.51,"lag":19.05,"g":1},
{"d":"2025-03-24","tk":20.17,"kj":20.19,"sa":20.06,"sb":25.23,"lr":18.87,"lg":19.08,"lv":19.16,"lag":19.85,"g":1},
{"d":"2025-03-25","tk":20.82,"kj":20.19,"sa":20.49,"sb":24.0,"lr":18.91,"lg":19.15,"lv":19.02,"lag":19.47,"g":1},
{"d":"2025-03-26","tk":20.89,"kj":20.19,"sa":20.53,"sb":22.13,"lr":19.02,"lg":19.36,"lv":18.84,"lag":19.9,"g":1},
{"d":"2025-03-27","tk":20.89,"kj":20.19,"sa":20.53,"sb":22.05,"lr":19.09,"lg":19.69,"lv":18.73,"lag":22.08,"g":1},
{"d":"2025-03-28","tk":20.89,"kj":20.19,"sa":20.53,"sb":21.49,"lr":19.12,"lg":20.17,"lv":18.63,"lag":22.28,"g":1},
{"d":"2025-03-29","tk":20.91,"kj":19.35,"sa":20.13,"sb":21.3,"lr":19.66,"lg":20.55,"lv":18.52,"lag":22.32,"g":1},
{"d":"2025-03-30","tk":21.04,"kj":19.35,"sa":20.18,"sb":21.25,"lr":20.1,"lg":21.56,"lv":18.63,"lag":22.13,"g":1},
{"d":"2025-03-31","tk":20.8,"kj":19.35,"sa":20.13,"sb":21.25,"lr":20.4,"lg":21.68,"lv":18.88,"lag":22.37,"g":1},
{"d":"2025-04-01","tk":20.8,"kj":19.35,"sa":20.08,"sb":21.25,"lr":20.66,"lg":21.25,"lv":19.23,"lag":21.68,"g":1},
{"d":"2025-04-02","tk":20.62,"kj":19.35,"sa":20.0,"sb":21.24,"lr":20.88,"lg":20.7,"lv":19.54,"lag":21.82,"g":1},
{"d":"2025-04-03","tk":20.4,"kj":19.35,"sa":19.88,"sb":21.23,"lr":20.93,"lg":20.2,"lv":19.89,"lag":21.56,"g":1},
{"d":"2025-04-04","tk":19.97,"kj":19.35,"sa":19.66,"sb":21.23,"lr":20.87,"lg":20.19,"lv":20.02,"lag":20.9,"g":1},
{"d":"2025-04-05","tk":19.86,"kj":19.35,"sa":19.62,"sb":21.23,"lr":20.8,"lg":19.71,"lv":20.12,"lag":21.62,"g":1},
{"d":"2025-04-06","tk":18.04,"kj":19.5,"sa":18.96,"sb":21.23,"lr":20.61,"lg":19.1,"lv":20.19,"lag":21.22,"g":1},
{"d":"2025-04-07","tk":17.29,"kj":19.04,"sa":18.17,"sb":20.8,"lr":20.23,"lg":18.37,"lv":20.23,"lag":20.5,"g":1},
{"d":"2025-04-08","tk":17.29,"kj":19.04,"sa":18.17,"sb":20.58,"lr":19.71,"lg":17.87,"lv":20.22,"lag":19.89,"g":1},
{"d":"2025-04-09","tk":17.29,"kj":19.04,"sa":18.17,"sb":20.58,"lr":19.2,"lg":17.51,"lv":20.21,"lag":19.67,"g":1},
{"d":"2025-04-10","tk":17.26,"kj":19.04,"sa":18.17,"sb":20.58,"lr":18.82,"lg":17.35,"lv":20.15,"lag":19.98,"g":1},
{"d":"2025-04-11","tk":17.11,"kj":19.04,"sa":18.09,"sb":20.58,"lr":18.3,"lg":16.98,"lv":20.1,"lag":19.54,"g":1},
{"d":"2025-04-12","tk":17.83,"kj":19.04,"sa":18.43,"sb":20.58,"lr":17.9,"lg":17.03,"lv":19.97,"lag":22.14,"g":1},
{"d":"2025-04-13","tk":17.83,"kj":19.04,"sa":18.43,"sb":20.58,"lr":17.62,"lg":17.11,"lv":19.71,"lag":23.23,"g":1},
{"d":"2025-04-14","tk":17.83,"kj":19.04,"sa":18.43,"sb":20.49,"lr":17.44,"lg":18.14,"lv":19.31,"lag":25.76,"g":1},
{"d":"2025-04-15","tk":17.83,"kj":19.04,"sa":18.43,"sb":20.3,"lr":17.48,"lg":18.75,"lv":18.82,"lag":24.76,"g":1},
{"d":"2025-04-16","tk":18.29,"kj":19.04,"sa":18.68,"sb":19.91,"lr":17.64,"lg":19.31,"lv":18.43,"lag":24.8,"g":1},
{"d":"2025-04-17","tk":18.29,"kj":19.04,"sa":18.68,"sb":19.87,"lr":17.94,"lg":19.55,"lv":18.23,"lag":25.66,"g":1},
{"d":"2025-04-18","tk":19.28,"kj":19.04,"sa":19.28,"sb":19.87,"lr":18.26,"lg":19.64,"lv":18.07,"lag":24.94,"g":1},
{"d":"2025-04-19","tk":19.66,"kj":19.04,"sa":19.54,"sb":19.87,"lr":18.68,"lg":19.54,"lv":18.01,"lag":23.47,"g":1},
{"d":"2025-04-20","tk":19.75,"kj":18.94,"sa":19.54,"sb":19.87,"lr":19.01,"lg":19.31,"lv":18.13,"lag":23.04,"g":1},
{"d":"2025-04-21","tk":19.71,"kj":18.51,"sa":19.13,"sb":19.87,"lr":19.19,"lg":19.13,"lv":18.18,"lag":22.16,"g":1},
{"d":"2025-04-22","tk":20.38,"kj":18.48,"sa":19.42,"sb":19.87,"lr":19.33,"lg":19.17,"lv":18.21,"lag":23.04,"g":1},
{"d":"2025-04-23","tk":20.78,"kj":18.85,"sa":19.82,"sb":19.87,"lr":19.44,"lg":19.28,"lv":18.28,"lag":22.22,"g":1},
{"d":"2025-04-24","tk":20.78,"kj":18.85,"sa":19.82,"sb":19.05,"lr":19.49,"lg":19.89,"lv":18.32,"lag":22.58,"g":1},
{"d":"2025-04-24","tk":20.78,"kj":18.85,"sa":19.82,"sb":19.05,"lr":19.49,"lg":19.89,"lv":18.32,"lag":22.58,"g":2},
{"d":"2025-04-25","tk":20.87,"kj":18.85,"sa":19.86,"sb":19.05,"lr":19.39,"lg":20.38,"lv":18.38,"lag":23.16,"g":2},
{"d":"2025-04-26","tk":20.97,"kj":18.85,"sa":19.89,"sb":19.05,"lr":19.44,"lg":20.95,"lv":18.5,"lag":25.25,"g":2},
{"d":"2025-04-27","tk":21.06,"kj":18.85,"sa":19.95,"sb":19.05,"lr":19.67,"lg":21.58,"lv":18.82,"lag":23.04,"g":2},
{"d":"2025-04-28","tk":21.16,"kj":18.85,"sa":20.0,"sb":19.05,"lr":20.06,"lg":21.9,"lv":19.06,"lag":22.96,"g":2},
{"d":"2025-04-29","tk":21.25,"kj":18.85,"sa":20.06,"sb":19.05,"lr":20.36,"lg":22.24,"lv":19.31,"lag":23.44,"g":2},
{"d":"2025-04-30","tk":21.25,"kj":18.85,"sa":20.06,"sb":19.05,"lr":20.8,"lg":22.18,"lv":19.6,"lag":23.06,"g":2},
{"d":"2025-05-01","tk":21.7,"kj":18.85,"sa":20.24,"sb":19.05,"lr":21.19,"lg":22.1,"lv":20.0,"lag":23.36,"g":2},
{"d":"2025-05-02","tk":21.66,"kj":18.85,"sa":20.26,"sb":19.05,"lr":21.58,"lg":21.98,"lv":20.26,"lag":23.57,"g":2},
{"d":"2025-05-03","tk":21.66,"kj":19.33,"sa":20.46,"sb":19.05,"lr":21.87,"lg":21.83,"lv":20.3,"lag":22.22,"g":2},
{"d":"2025-05-04","tk":21.33,"kj":19.32,"sa":20.37,"sb":19.04,"lr":22.04,"lg":21.65,"lv":20.41,"lag":20.55,"g":2},
{"d":"2025-05-05","tk":21.02,"kj":20.22,"sa":20.67,"sb":19.04,"lr":21.93,"lg":21.49,"lv":20.67,"lag":20.77,"g":2},
{"d":"2025-05-06","tk":20.83,"kj":20.63,"sa":20.73,"sb":19.04,"lr":21.81,"lg":21.33,"lv":20.85,"lag":20.85,"g":2},
{"d":"2025-05-07","tk":20.69,"kj":20.77,"sa":20.73,"sb":19.04,"lr":21.65,"lg":21.02,"lv":21.04,"lag":21.12,"g":2},
{"d":"2025-05-08","tk":20.63,"kj":20.77,"sa":20.79,"sb":19.04,"lr":21.45,"lg":20.71,"lv":21.26,"lag":21.1,"g":2},
{"d":"2025-05-09","tk":21.57,"kj":21.26,"sa":21.33,"sb":19.34,"lr":21.1,"lg":20.41,"lv":21.37,"lag":20.08,"g":2},
{"d":"2025-05-10","tk":22.51,"kj":22.23,"sa":22.37,"sb":20.29,"lr":20.79,"lg":19.96,"lv":21.49,"lag":18.73,"g":2},
{"d":"2025-05-11","tk":22.57,"kj":22.25,"sa":22.4,"sb":20.33,"lr":20.56,"lg":20.18,"lv":21.57,"lag":19.64,"g":2},
{"d":"2025-05-12","tk":22.94,"kj":22.8,"sa":22.84,"sb":20.73,"lr":20.41,"lg":20.94,"lv":21.58,"lag":20.62,"g":2},
{"d":"2025-05-13","tk":22.94,"kj":22.87,"sa":22.9,"sb":20.73,"lr":20.56,"lg":21.57,"lv":21.49,"lag":21.02,"g":2},
{"d":"2025-05-14","tk":22.94,"kj":22.91,"sa":22.92,"sb":20.73,"lr":20.75,"lg":23.22,"lv":21.3,"lag":21.94,"g":2},
{"d":"2025-05-15","tk":22.94,"kj":22.94,"sa":22.94,"sb":20.73,"lr":21.26,"lg":24.37,"lv":21.02,"lag":22.58,"g":2},
{"d":"2025-05-16","tk":23.07,"kj":22.94,"sa":23.24,"sb":20.73,"lr":21.73,"lg":24.92,"lv":21.0,"lag":21.55,"g":2},
{"d":"2025-05-17","tk":24.37,"kj":22.94,"sa":23.66,"sb":20.73,"lr":22.37,"lg":25.19,"lv":21.04,"lag":20.26,"g":2},
{"d":"2025-05-18","tk":24.19,"kj":22.94,"sa":23.57,"sb":20.73,"lr":23.06,"lg":24.73,"lv":21.33,"lag":19.38,"g":2},
{"d":"2025-05-19","tk":24.04,"kj":22.94,"sa":23.52,"sb":20.73,"lr":23.81,"lg":24.37,"lv":21.65,"lag":18.9,"g":2},
{"d":"2025-05-20","tk":24.04,"kj":22.94,"sa":23.49,"sb":20.73,"lr":24.37,"lg":24.01,"lv":21.97,"lag":19.05,"g":2},
{"d":"2025-05-21","tk":23.88,"kj":22.94,"sa":23.46,"sb":20.73,"lr":24.48,"lg":23.57,"lv":22.25,"lag":19.0,"g":2},
{"d":"2025-05-22","tk":23.88,"kj":22.94,"sa":23.4,"sb":20.73,"lr":24.37,"lg":23.05,"lv":22.5,"lag":18.57,"g":2},
{"d":"2025-05-23","tk":23.61,"kj":22.94,"sa":23.3,"sb":20.73,"lr":24.17,"lg":22.72,"lv":22.71,"lag":18.16,"g":2},
{"d":"2025-05-24","tk":23.61,"kj":22.94,"sa":23.3,"sb":20.73,"lr":23.97,"lg":22.64,"lv":22.92,"lag":18.05,"g":2},
{"d":"2025-05-25","tk":23.61,"kj":22.94,"sa":23.3,"sb":20.73,"lr":23.74,"lg":22.8,"lv":23.22,"lag":17.37,"g":2},
{"d":"2025-05-26","tk":23.61,"kj":22.94,"sa":23.3,"sb":20.73,"lr":23.57,"lg":22.97,"lv":23.39,"lag":16.8,"g":2},
{"d":"2025-05-27","tk":23.61,"kj":22.94,"sa":23.3,"sb":20.73,"lr":23.4,"lg":23.31,"lv":23.57,"lag":16.5,"g":2},
{"d":"2025-05-28","tk":23.84,"kj":22.94,"sa":23.4,"sb":20.73,"lr":23.36,"lg":23.49,"lv":23.74,"lag":18.04,"g":2},
{"d":"2025-05-29","tk":23.98,"kj":22.94,"sa":23.45,"sb":21.14,"lr":23.33,"lg":23.57,"lv":23.79,"lag":18.2,"g":2},
{"d":"2025-05-30","tk":23.18,"kj":22.94,"sa":23.14,"sb":21.14,"lr":23.23,"lg":23.14,"lv":23.92,"lag":17.55,"g":2},
{"d":"2025-05-31","tk":22.88,"kj":22.94,"sa":22.88,"sb":22.3,"lr":23.1,"lg":22.97,"lv":23.74,"lag":17.22,"g":2},
{"d":"2025-06-01","tk":22.04,"kj":22.94,"sa":22.59,"sb":22.66,"lr":23.31,"lg":22.8,"lv":23.57,"lag":17.55,"g":2},
{"d":"2025-06-01","tk":22.04,"kj":22.94,"sa":22.59,"sb":22.66,"lr":23.31,"lg":22.8,"lv":23.57,"lag":17.55,"g":3},
{"d":"2025-06-02","tk":22.05,"kj":23.15,"sa":22.63,"sb":22.66,"lr":23.47,"lg":22.45,"lv":23.44,"lag":17.96,"g":3},
{"d":"2025-06-03","tk":22.05,"kj":23.3,"sa":22.66,"sb":22.66,"lr":23.36,"lg":22.0,"lv":23.23,"lag":18.71,"g":3},
{"d":"2025-06-04","tk":22.05,"kj":23.29,"sa":22.68,"sb":22.65,"lr":22.77,"lg":21.47,"lv":23.16,"lag":17.94,"g":3},
{"d":"2025-06-05","tk":21.39,"kj":22.62,"sa":21.99,"sb":22.65,"lr":22.4,"lg":21.15,"lv":23.14,"lag":17.09,"g":3},
{"d":"2025-06-06","tk":21.37,"kj":22.62,"sa":21.99,"sb":22.65,"lr":22.19,"lg":20.96,"lv":23.07,"lag":18.49,"g":3},
{"d":"2025-06-07","tk":20.39,"kj":22.47,"sa":21.47,"sb":22.65,"lr":21.95,"lg":20.61,"lv":22.94,"lag":18.52,"g":3},
{"d":"2025-06-08","tk":20.05,"kj":22.47,"sa":21.31,"sb":22.65,"lr":21.63,"lg":20.31,"lv":22.77,"lag":17.78,"g":3},
{"d":"2025-06-09","tk":20.22,"kj":22.19,"sa":21.23,"sb":22.65,"lr":21.11,"lg":20.2,"lv":22.67,"lag":17.88,"g":3},
{"d":"2025-06-10","tk":20.48,"kj":22.19,"sa":21.35,"sb":22.64,"lr":20.61,"lg":20.05,"lv":22.52,"lag":18.25,"g":3},
{"d":"2025-06-11","tk":20.6,"kj":22.19,"sa":21.39,"sb":22.64,"lr":20.36,"lg":20.04,"lv":22.36,"lag":17.96,"g":3},
{"d":"2025-06-12","tk":20.6,"kj":22.19,"sa":21.39,"sb":22.63,"lr":20.37,"lg":20.46,"lv":22.03,"lag":18.32,"g":3},
{"d":"2025-06-13","tk":20.6,"kj":22.19,"sa":21.39,"sb":22.63,"lr":20.42,"lg":21.19,"lv":21.63,"lag":19.46,"g":3},
{"d":"2025-06-14","tk":20.6,"kj":22.19,"sa":21.39,"sb":22.62,"lr":20.54,"lg":21.53,"lv":21.39,"lag":20.67,"g":3},
{"d":"2025-06-15","tk":20.6,"kj":22.19,"sa":21.39,"sb":22.62,"lr":20.65,"lg":21.47,"lv":21.23,"lag":20.64,"g":3},
{"d":"2025-06-16","tk":20.6,"kj":22.19,"sa":21.39,"sb":22.62,"lr":20.73,"lg":21.31,"lv":21.09,"lag":20.66,"g":3},
{"d":"2025-06-17","tk":20.42,"kj":22.03,"sa":21.23,"sb":22.47,"lr":20.79,"lg":20.96,"lv":20.96,"lag":21.16,"g":3},
{"d":"2025-06-18","tk":20.4,"kj":21.21,"sa":20.8,"sb":22.44,"lr":20.81,"lg":20.42,"lv":20.86,"lag":21.22,"g":3},
{"d":"2025-06-19","tk":20.18,"kj":21.01,"sa":20.57,"sb":22.21,"lr":20.73,"lg":19.87,"lv":20.8,"lag":22.47,"g":3},
{"d":"2025-06-20","tk":19.36,"kj":20.61,"sa":20.09,"sb":21.83,"lr":20.46,"lg":19.14,"lv":20.74,"lag":22.63,"g":3},
{"d":"2025-06-21","tk":18.28,"kj":20.31,"sa":19.43,"sb":21.59,"lr":20.09,"lg":18.66,"lv":20.62,"lag":23.9,"g":3},
{"d":"2025-06-22","tk":17.79,"kj":19.98,"sa":18.88,"sb":21.22,"lr":19.72,"lg":18.38,"lv":20.45,"lag":23.47,"g":3},
{"d":"2025-06-23","tk":17.79,"kj":19.98,"sa":18.88,"sb":21.22,"lr":19.21,"lg":18.1,"lv":20.29,"lag":24.46,"g":3},
{"d":"2025-06-24","tk":17.79,"kj":19.18,"sa":18.49,"sb":21.22,"lr":18.78,"lg":17.75,"lv":20.18,"lag":25.0,"g":3},
{"d":"2025-06-25","tk":17.55,"kj":19.18,"sa":18.39,"sb":21.22,"lr":18.44,"lg":17.42,"lv":20.06,"lag":25.39,"g":3},
{"d":"2025-06-26","tk":17.3,"kj":19.18,"sa":18.21,"sb":21.22,"lr":18.21,"lg":17.36,"lv":20.02,"lag":25.84,"g":3},
{"d":"2025-06-27","tk":17.03,"kj":19.18,"sa":18.11,"sb":21.22,"lr":18.08,"lg":17.42,"lv":19.91,"lag":23.9,"g":3},
{"d":"2025-06-28","tk":17.03,"kj":19.18,"sa":18.11,"sb":21.22,"lr":17.94,"lg":17.45,"lv":19.68,"lag":23.64,"g":3},
{"d":"2025-06-29","tk":17.24,"kj":19.18,"sa":18.21,"sb":21.22,"lr":17.78,"lg":17.53,"lv":19.31,"lag":23.97,"g":3},
{"d":"2025-06-30","tk":17.24,"kj":19.18,"sa":18.21,"sb":21.22,"lr":17.65,"lg":17.72,"lv":18.8,"lag":24.88,"g":3},
{"d":"2025-07-01","tk":17.58,"kj":19.18,"sa":18.37,"sb":21.22,"lr":17.45,"lg":17.72,"lv":18.42,"lag":26.06,"g":3},
{"d":"2025-07-02","tk":17.85,"kj":19.17,"sa":18.55,"sb":21.21,"lr":17.43,"lg":17.88,"lv":18.28,"lag":27.12,"g":3},
{"d":"2025-07-03","tk":18.04,"kj":19.17,"sa":18.61,"sb":21.06,"lr":17.6,"lg":17.88,"lv":18.05,"g":3},
{"d":"2025-07-04","tk":18.04,"kj":19.17,"sa":18.61,"sb":21.06,"lr":17.78,"lg":17.9,"lv":17.87,"g":3},
{"d":"2025-07-05","tk":18.04,"kj":19.17,"sa":18.61,"sb":20.78,"lr":17.8,"lg":17.9,"lv":17.8,"g":3},
{"d":"2025-07-06","tk":18.04,"kj":19.17,"sa":18.61,"sb":20.78,"lr":17.8,"lg":17.97,"lv":17.77,"g":3},
{"d":"2025-07-07","tk":18.04,"kj":18.58,"sa":18.34,"sb":20.78,"lr":17.83,"lg":18.07,"lv":17.71,"g":3},
{"d":"2025-07-08","tk":18.04,"kj":17.94,"sa":18.1,"sb":20.78,"lr":17.99,"lg":18.04,"lv":17.64,"g":3},
{"d":"2025-07-09","tk":18.31,"kj":17.8,"sa":18.14,"sb":20.78,"lr":18.06,"lg":18.04,"lv":17.61,"g":3},
{"d":"2025-07-10","tk":18.86,"kj":18.17,"sa":18.58,"sb":20.78,"lr":18.06,"lg":18.07,"lv":17.66,"g":3},
{"d":"2025-07-11","tk":19.49,"kj":18.56,"sa":19.03,"sb":20.78,"lr":18.06,"lg":18.07,"lv":17.74,"g":3},
{"d":"2025-07-12","tk":19.49,"kj":18.56,"sa":19.03,"sb":20.78,"lr":17.99,"lg":18.65,"lv":17.8,"g":3},
{"d":"2025-07-13","tk":19.67,"kj":18.7,"sa":19.21,"sb":20.78,"lr":18.06,"lg":19.35,"lv":17.9,"g":3},
{"d":"2025-07-14","tk":19.86,"kj":18.84,"sa":19.36,"sb":19.97,"lr":18.46,"lg":19.75,"lv":17.91,"g":3},
{"d":"2025-07-15","tk":20.08,"kj":19.07,"sa":19.57,"sb":19.97,"lr":18.87,"lg":20.23,"lv":17.91,"g":3},
{"d":"2025-07-16","tk":20.34,"kj":19.31,"sa":19.82,"sb":19.97,"lr":19.25,"lg":20.68,"lv":17.98,"g":3},
{"d":"2025-07-17","tk":21.26,"kj":19.97,"sa":20.53,"sb":19.97,"lr":19.71,"lg":21.07,"lv":18.13,"g":3},
{"d":"2025-07-17","tk":21.26,"kj":19.97,"sa":20.53,"sb":19.97,"lr":19.71,"lg":21.07,"lv":18.13,"g":4},
{"d":"2025-07-18","tk":22.18,"kj":20.64,"sa":21.38,"sb":20.3,"lr":20.08,"lg":21.46,"lv":18.38,"g":4},
{"d":"2025-07-19","tk":22.68,"kj":21.07,"sa":21.9,"sb":20.39,"lr":20.45,"lg":21.94,"lv":18.59,"g":4},
{"d":"2025-07-20","tk":22.86,"kj":21.24,"sa":22.02,"sb":20.57,"lr":20.99,"lg":22.52,"lv":18.77,"g":4},
{"d":"2025-07-21","tk":23.45,"kj":21.71,"sa":22.58,"sb":21.05,"lr":21.54,"lg":23.19,"lv":19.01,"g":4},
{"d":"2025-07-22","tk":23.45,"kj":21.71,"sa":22.58,"sb":21.05,"lr":22.04,"lg":23.8,"lv":19.35,"g":4},
{"d":"2025-07-23","tk":23.45,"kj":21.71,"sa":22.58,"sb":21.05,"lr":22.52,"lg":24.06,"lv":19.6,"g":4},
{"d":"2025-07-24","tk":24.06,"kj":21.71,"sa":22.89,"sb":21.05,"lr":23.02,"lg":24.51,"lv":19.93,"g":4},
{"d":"2025-07-25","tk":24.29,"kj":21.71,"sa":22.98,"sb":21.05,"lr":23.54,"lg":24.88,"lv":20.38,"g":4},
{"d":"2025-07-26","tk":24.51,"kj":21.71,"sa":23.12,"sb":21.05,"lr":23.98,"lg":24.92,"lv":20.9,"g":4},
{"d":"2025-07-27","tk":24.51,"kj":21.71,"sa":23.12,"sb":21.05,"lr":24.2,"lg":24.79,"lv":21.44,"g":4},
{"d":"2025-07-28","tk":24.94,"kj":22.42,"sa":23.68,"sb":21.48,"lr":24.36,"lg":24.59,"lv":21.89,"g":4}
],
"dt": [
{"d":"2025-01-20","p":33.67,"t":"gs"},{"d":"2025-01-24","p":33.76,"t":"gs"},{"d":"2025-01-28","p":31.03,"t":"gs"},
{"d":"2025-02-03","p":20.42,"t":"gs"},{"d":"2025-02-03","p":18.88,"t":"gf"},{"d":"2025-02-03","p":17.99,"t":"gr"},
{"d":"2025-02-04","p":23.92,"t":"gb"},{"d":"2025-02-08","p":21.96,"t":"bl"},{"d":"2025-02-09","p":22.88,"t":"gs"},
{"d":"2025-02-10","p":21.92,"t":"mg"},{"d":"2025-02-14","p":27.95,"t":"gs"},{"d":"2025-02-18","p":22.23,"t":"gs"},
{"d":"2025-02-19","p":21.19,"t":"mg"},{"d":"2025-02-21","p":27.23,"t":"gs"},{"d":"2025-02-27","p":24.07,"t":"gs"},
{"d":"2025-02-27","p":20.29,"t":"gb"},{"d":"2025-02-27","p":20.04,"t":"dg"},{"d":"2025-02-28","p":19.1,"t":"or"},
{"d":"2025-02-25","p":18.31,"t":"gf"},{"d":"2025-02-25","p":17.51,"t":"gr"},{"d":"2025-03-03","p":27.09,"t":"cy"},
{"d":"2025-03-03","p":25.78,"t":"gs"},{"d":"2025-03-04","p":18.17,"t":"gs"},{"d":"2025-03-06","p":23.25,"t":"gs"},
{"d":"2025-03-10","p":20.88,"t":"rp"},{"d":"2025-03-12","p":16.07,"t":"bk"},{"d":"2025-03-12","p":15.28,"t":"bl"},
{"d":"2025-03-11","p":14.61,"t":"gs"},{"d":"2025-03-10","p":14.23,"t":"gs"},{"d":"2025-03-11","p":13.92,"t":"gb"},
{"d":"2025-03-11","p":13.34,"t":"gr"},{"d":"2025-03-16","p":20.5,"t":"gs"},{"d":"2025-03-16","p":17.51,"t":"gs"},
{"d":"2025-03-19","p":20.72,"t":"gs"},{"d":"2025-03-20","p":21.65,"t":"cy"},{"d":"2025-03-21","p":17.79,"t":"gs"},
{"d":"2025-03-25","p":25.15,"t":"gs"},{"d":"2025-03-25","p":24.01,"t":"gs"},{"d":"2025-03-27","p":23.73,"t":"tg"},
{"d":"2025-03-28","p":23.84,"t":"cy"},{"d":"2025-03-27","p":23.51,"t":"gb"},{"d":"2025-03-25","p":19.6,"t":"ye"},
{"d":"2025-03-24","p":19.0,"t":"gp"},{"d":"2025-03-26","p":18.91,"t":"cy"},{"d":"2025-04-01","p":20.53,"t":"gs"},
{"d":"2025-04-03","p":17.05,"t":"rf"},{"d":"2025-04-03","p":17.05,"t":"gs"},{"d":"2025-04-06","p":19.49,"t":"ye"},
{"d":"2025-04-07","p":14.16,"t":"rr"},{"d":"2025-04-12","p":21.57,"t":"gs"},{"d":"2025-04-18","p":20.79,"t":"cy"},
{"d":"2025-04-18","p":17.45,"t":"ye"},{"d":"2025-04-21","p":17.07,"t":"cy"},{"d":"2025-04-24","p":23.77,"t":"tg"},
{"d":"2025-04-23","p":23.55,"t":"gs"},{"d":"2025-04-26","p":23.47,"t":"gs"},{"d":"2025-05-01","p":22.64,"t":"gs"},
{"d":"2025-04-16","p":18.01,"t":"gs"},{"d":"2025-04-30","p":19.92,"t":"gs"},{"d":"2025-05-03","p":19.89,"t":"gp"},
{"d":"2025-05-04","p":21.83,"t":"rp"},{"d":"2025-05-07","p":21.51,"t":"ye"},{"d":"2025-05-09","p":20.69,"t":"ye"},
{"d":"2025-05-06","p":18.85,"t":"rf"},{"d":"2025-05-08","p":18.9,"t":"gp"},{"d":"2025-05-07","p":18.67,"t":"gs"},
{"d":"2025-05-08","p":17.3,"t":"cy"},{"d":"2025-05-10","p":27.73,"t":"gb"},{"d":"2025-05-08","p":27.23,"t":"gm"},
{"d":"2025-05-09","p":27.26,"t":"gr"},{"d":"2025-05-10","p":27.27,"t":"gs"},{"d":"2025-05-14","p":26.12,"t":"bl"},
{"d":"2025-05-21","p":26.41,"t":"rf"},{"d":"2025-05-21","p":26.41,"t":"gs"},{"d":"2025-05-24","p":24.43,"t":"gs"},
{"d":"2025-05-28","p":24.8,"t":"gs"},{"d":"2025-05-15","p":21.35,"t":"ye"},{"d":"2025-05-17","p":20.27,"t":"gfb"},
{"d":"2025-05-18","p":20.8,"t":"gs"},{"d":"2025-05-21","p":20.84,"t":"cy"},{"d":"2025-05-20","p":21.53,"t":"gp"},
{"d":"2025-05-24","p":21.58,"t":"gs"},{"d":"2025-05-24","p":19.76,"t":"cy"},{"d":"2025-05-26","p":20.27,"t":"cy"},
{"d":"2025-05-29","p":23.62,"t":"cy"},{"d":"2025-05-30","p":22.42,"t":"ye"},{"d":"2025-05-30","p":22.3,"t":"rp"},
{"d":"2025-05-30","p":19.32,"t":"gs"},{"d":"2025-05-31","p":19.13,"t":"dg"},{"d":"2025-05-30","p":18.5,"t":"gr"},
{"d":"2025-06-02","p":22.13,"t":"gs"},{"d":"2025-06-04","p":18.0,"t":"gs"},{"d":"2025-06-10","p":23.2,"t":"rf"},
{"d":"2025-06-10","p":23.2,"t":"gs"},{"d":"2025-06-11","p":22.84,"t":"cy"},{"d":"2025-06-13","p":18.17,"t":"bk"},
{"d":"2025-06-12","p":18.04,"t":"gs"},{"d":"2025-06-15","p":20.42,"t":"gs"},{"d":"2025-06-23","p":18.88,"t":"gs"},
{"d":"2025-06-22","p":15.76,"t":"bk"},{"d":"2025-06-21","p":15.23,"t":"gs"},{"d":"2025-06-28","p":19.97,"t":"cy"},
{"d":"2025-06-27","p":19.28,"t":"gs"},{"d":"2025-06-25","p":16.66,"t":"gs"},{"d":"2025-06-29","p":16.58,"t":"gs"},
{"d":"2025-07-02","p":19.55,"t":"gs"},{"d":"2025-07-10","p":22.54,"t":"gr"},{"d":"2025-07-12","p":22.5,"t":"gb"},
{"d":"2025-07-09","p":21.83,"t":"gm"},{"d":"2025-07-12","p":18.91,"t":"cy"},{"d":"2025-07-07","p":17.34,"t":"gs"},
{"d":"2025-07-07","p":16.69,"t":"ye"},{"d":"2025-07-14","p":20.03,"t":"gs"},{"d":"2025-07-17","p":26.04,"t":"gr"},
{"d":"2025-07-21","p":26.9,"t":"bl"},{"d":"2025-07-20","p":26.9,"t":"gs"},{"d":"2025-07-23","p":25.37,"t":"mg"},
{"d":"2025-07-23","p":22.13,"t":"gs"}
]
},
"layer": [
{"data": {"name": "ln"},
 "mark": {"type": "area", "clip": true, "fillOpacity": 0.075},
 "encoding": {
  "x": {"field": "d", "type": "temporal",
   "scale": {"type": "utc", "domain": [{"year":2025,"month":1,"date":17,"hours":16,"utc":true},{"year":2025,"month":8,"date":15,"hours":1,"minutes":30,"utc":true}]},
   "axis": {"title": null, "values": [
     {"year":2025,"month":1,"date":21,"utc":true},{"year":2025,"month":1,"date":26,"utc":true},
     {"year":2025,"month":2,"date":1,"utc":true},{"year":2025,"month":2,"date":6,"utc":true},{"year":2025,"month":2,"date":11,"utc":true},{"year":2025,"month":2,"date":16,"utc":true},{"year":2025,"month":2,"date":21,"utc":true},
     {"year":2025,"month":3,"date":1,"utc":true},{"year":2025,"month":3,"date":6,"utc":true},{"year":2025,"month":3,"date":11,"utc":true},{"year":2025,"month":3,"date":16,"utc":true},{"year":2025,"month":3,"date":21,"utc":true},{"year":2025,"month":3,"date":26,"utc":true},
     {"year":2025,"month":4,"date":1,"utc":true},{"year":2025,"month":4,"date":6,"utc":true},{"year":2025,"month":4,"date":11,"utc":true},{"year":2025,"month":4,"date":16,"utc":true},{"year":2025,"month":4,"date":21,"utc":true},{"year":2025,"month":4,"date":26,"utc":true},
     {"year":2025,"month":5,"date":1,"utc":true},{"year":2025,"month":5,"date":6,"utc":true},{"year":2025,"month":5,"date":11,"utc":true},{"year":2025,"month":5,"date":16,"utc":true},{"year":2025,"month":5,"date":21,"utc":true},{"year":2025,"month":5,"date":26,"utc":true},
     {"year":2025,"month":6,"date":1,"utc":true},{"year":2025,"month":6,"date":6,"utc":true},{"year":2025,"month":6,"date":11,"utc":true},{"year":2025,"month":6,"date":16,"utc":true},{"year":2025,"month":6,"date":21,"utc":true},{"year":2025,"month":6,"date":26,"utc":true},
     {"year":2025,"month":7,"date":1,"utc":true},{"year":2025,"month":7,"date":6,"utc":true},{"year":2025,"month":7,"date":11,"utc":true},{"year":2025,"month":7,"date":16,"utc":true},{"year":2025,"month":7,"date":21,"utc":true},{"year":2025,"month":7,"date":26,"utc":true},
     {"year":2025,"month":8,"date":1,"utc":true},{"year":2025,"month":8,"date":6,"utc":true},{"year":2025,"month":8,"date":11,"utc":true}],
    "labelExpr": "utcdate(datum.value) == 1 ? ['Jan','Feb','Mrz','Apr','Mai','Jun','Jul','Aug','Sep'][utcmonth(datum.value)] : '' + utcdate(datum.value)",
    "labelFontWeight": {"condition": {"test": "utcdate(datum.value) == 1", "value": "bold"}, "value": "normal"},
    "grid": true, "gridColor": "#f0f1f4", "ticks": false, "domain": false,
    "labelFontSize": 13, "labelColor": "#131722", "labelPadding": 9, "labelOverlap": false, "labelFlush": false, "labelBound": false}},
  "y": {"field": "sa", "type": "quantitative",
   "scale": {"type": "log", "domain": [13.08, 35.62], "nice": false},
   "axis": {"title": null, "orient": "right",
    "values": [13.34,13.7,14.1,14.5,14.9,15.4,15.9,16.4,17,17.6,18.2,18.8,19.4,20,21,22,23,24,25,26,28,29,30,31,32,33,34],
    "format": ".2f", "labelExpr": "replace(datum.label, '.', ',')",
    "grid": true, "gridColor": "#f0f1f4", "ticks": false, "domain": false,
    "labelFontSize": 13, "labelColor": "#131722", "labelPadding": 10, "labelOverlap": false, "labelFlush": false, "labelBound": false}},
  "y2": {"field": "sb"},
  "color": {"field": "g", "type": "nominal", "scale": {"domain": [1,2,3,4], "range": ["#ff00ff","#00ff00","#ff00ff","#00ff00"]}, "legend": null},
  "detail": {"field": "g", "type": "nominal"}
 }},
{"data": {"name": "ln"}, "mark": {"type": "line", "clip": true, "color": "#ff00ff", "strokeWidth": 1},
 "encoding": {"x": {"field": "d", "type": "temporal", "scale": {"type": "utc"}}, "y": {"field": "sb", "type": "quantitative", "scale": {"type": "log"}}}},
{"data": {"name": "ln"}, "mark": {"type": "line", "clip": true, "color": "#00ee00", "strokeWidth": 1},
 "encoding": {"x": {"field": "d", "type": "temporal", "scale": {"type": "utc"}}, "y": {"field": "sa", "type": "quantitative", "scale": {"type": "log"}}}},
{"data": {"name": "ln"}, "mark": {"type": "line", "clip": true, "color": "#b4b4ff", "strokeWidth": 1},
 "encoding": {"x": {"field": "d", "type": "temporal", "scale": {"type": "utc"}}, "y": {"field": "lv", "type": "quantitative", "scale": {"type": "log"}}}},
{"data": {"name": "ln"}, "mark": {"type": "line", "clip": true, "color": "#ffb0b0", "strokeWidth": 1},
 "encoding": {"x": {"field": "d", "type": "temporal", "scale": {"type": "utc"}}, "y": {"field": "lr", "type": "quantitative", "scale": {"type": "log"}}}},
{"data": {"name": "ln"}, "mark": {"type": "line", "clip": true, "color": "#aaf0aa", "strokeWidth": 1},
 "encoding": {"x": {"field": "d", "type": "temporal", "scale": {"type": "utc"}}, "y": {"field": "lg", "type": "quantitative", "scale": {"type": "log"}}}},
{"data": {"name": "ln"}, "mark": {"type": "line", "clip": true, "color": "#c8c8c8", "strokeWidth": 1},
 "encoding": {"x": {"field": "d", "type": "temporal", "scale": {"type": "utc"}}, "y": {"field": "lag", "type": "quantitative", "scale": {"type": "log"}}}},
{"data": {"name": "ln"}, "mark": {"type": "line", "clip": true, "color": "#ff0000", "strokeWidth": 2.5},
 "encoding": {"x": {"field": "d", "type": "temporal", "scale": {"type": "utc"}}, "y": {"field": "kj", "type": "quantitative", "scale": {"type": "log"}}}},
{"data": {"name": "ln"}, "mark": {"type": "line", "clip": true, "color": "#0000ff", "strokeWidth": 2.5},
 "encoding": {"x": {"field": "d", "type": "temporal", "scale": {"type": "utc"}}, "y": {"field": "tk", "type": "quantitative", "scale": {"type": "log"}}}},
{"data": {"name": "c"}, "mark": {"type": "rule", "clip": true, "strokeWidth": 1},
 "encoding": {"x": {"field": "d", "type": "temporal", "scale": {"type": "utc"}}, "y": {"field": "l", "type": "quantitative", "scale": {"type": "log"}}, "y2": {"field": "h"},
  "color": {"condition": {"test": "datum.c >= datum.o", "value": "#0c8f82"}, "value": "#ff0000"}}},
{"data": {"name": "c"}, "mark": {"type": "bar", "clip": true, "width": 6, "strokeWidth": 1},
 "encoding": {"x": {"field": "d", "type": "temporal", "scale": {"type": "utc"}}, "y": {"field": "o", "type": "quantitative", "scale": {"type": "log"}}, "y2": {"field": "c"},
  "fill": {"field": "s", "type": "nominal", "scale": {"domain": ["R","r","G","g","K","k"], "range": ["#ff0000","#ffffff","#00ff00","#ffffff","#000000","#ffffff"]}, "legend": null},
  "stroke": {"field": "s", "type": "nominal", "scale": {"domain": ["R","r","G","g","K","k"], "range": ["#ff0000","#ff0000","#ff0000","#00ee00","#ff0000","#000000"]}, "legend": null}}},
{"data": {"name": "dt"}, "transform": [{"filter": {"field": "t", "oneOf": ["gb"]}}], "mark": {"type": "point", "filled": true, "opacity": 1, "size": 175, "color": "#9a9a9a"},
 "encoding": {"x": {"field": "d", "type": "temporal", "scale": {"type": "utc"}}, "y": {"field": "p", "type": "quantitative", "scale": {"type": "log"}}}},
{"data": {"name": "dt"}, "transform": [{"filter": {"field": "t", "oneOf": ["gm"]}}], "mark": {"type": "point", "filled": true, "opacity": 1, "size": 90, "color": "#9a9a9a"},
 "encoding": {"x": {"field": "d", "type": "temporal", "scale": {"type": "utc"}}, "y": {"field": "p", "type": "quantitative", "scale": {"type": "log"}}}},
{"data": {"name": "dt"}, "transform": [{"filter": {"field": "t", "oneOf": ["bl","mg","cy","ye","gf","dg","tg","bk"]}}], "mark": {"type": "point", "filled": true, "opacity": 1, "size": 100},
 "encoding": {"x": {"field": "d", "type": "temporal", "scale": {"type": "utc"}}, "y": {"field": "p", "type": "quantitative", "scale": {"type": "log"}},
  "color": {"field": "t", "type": "nominal", "scale": {"domain": ["bl","mg","cy","ye","gf","dg","tg","bk"], "range": ["#0000ff","#ff00ff","#00e1ff","#f5f000","#2ecc2e","#006400","#3cb371","#000000"]}, "legend": null}}},
{"data": {"name": "dt"}, "transform": [{"filter": {"field": "t", "oneOf": ["rf","gfb"]}}], "mark": {"type": "point", "filled": true, "opacity": 1, "size": 185},
 "encoding": {"x": {"field": "d", "type": "temporal", "scale": {"type": "utc"}}, "y": {"field": "p", "type": "quantitative", "scale": {"type": "log"}},
  "color": {"field": "t", "type": "nominal", "scale": {"domain": ["rf","gfb"], "range": ["#ff0000","#00e600"]}, "legend": null}}},
{"data": {"name": "dt"}, "transform": [{"filter": {"field": "t", "oneOf": ["gr","rr","or"]}}], "mark": {"type": "point", "filled": false, "opacity": 1, "size": 105, "strokeWidth": 3},
 "encoding": {"x": {"field": "d", "type": "temporal", "scale": {"type": "utc"}}, "y": {"field": "p", "type": "quantitative", "scale": {"type": "log"}},
  "color": {"field": "t", "type": "nominal", "scale": {"domain": ["gr","rr","or"], "range": ["#00e600","#ff0000","#ff9933"]}, "legend": null}}},
{"data": {"name": "dt"}, "transform": [{"filter": {"field": "t", "oneOf": ["gp","rp"]}}], "mark": {"type": "point", "shape": "cross", "filled": true, "opacity": 1, "size": 80},
 "encoding": {"x": {"field": "d", "type": "temporal", "scale": {"type": "utc"}}, "y": {"field": "p", "type": "quantitative", "scale": {"type": "log"}},
  "color": {"field": "t", "type": "nominal", "scale": {"domain": ["gp","rp"], "range": ["#3cb371","#ff0000"]}, "legend": null}}},
{"data": {"name": "dt"}, "transform": [{"filter": {"field": "t", "oneOf": ["gs"]}}], "mark": {"type": "point", "filled": true, "opacity": 1, "size": 18, "color": "#8a8a8a"},
 "encoding": {"x": {"field": "d", "type": "temporal", "scale": {"type": "utc"}}, "y": {"field": "p", "type": "quantitative", "scale": {"type": "log"}}}},
{"data": {"values": [{}]}, "mark": {"type": "rule", "color": "#00dd00", "strokeWidth": 1, "strokeDash": [2, 3]},
 "encoding": {"y": {"datum": 27.12, "type": "quantitative", "scale": {"type": "log"}}}},
{"data": {"values": [{}]}, "mark": {"type": "rect", "clip": false, "fill": "#ffffff", "fillOpacity": 0, "stroke": "#e6e8ec", "strokeWidth": 1.5},
 "encoding": {"x": {"datum": {"year":2025,"month":1,"date":17,"hours":16,"utc":true}, "type": "temporal", "scale": {"type": "utc"}},
  "x2": {"datum": {"year":2025,"month":8,"date":21,"hours":23,"minutes":18,"utc":true}},
  "y": {"datum": 35.62, "type": "quantitative", "scale": {"type": "log"}}, "y2": {"datum": 12.78}}},
{"data": {"values": [{}]}, "mark": {"type": "rect", "clip": false, "fill": "#00ff00", "cornerRadius": 2},
 "encoding": {"x": {"datum": {"year":2025,"month":8,"date":15,"hours":4,"minutes":5,"utc":true}, "type": "temporal", "scale": {"type": "utc"}},
  "x2": {"datum": {"year":2025,"month":8,"date":21,"hours":12,"utc":true}},
  "y": {"datum": 27.3, "type": "quantitative", "scale": {"type": "log"}}, "y2": {"datum": 26.566}}},
{"data": {"values": [{}]}, "mark": {"type": "text", "clip": false, "align": "left", "baseline": "middle", "fontSize": 12, "color": "#131722"},
 "encoding": {"x": {"datum": {"year":2025,"month":8,"date":16,"hours":0,"minutes":43,"utc":true}, "type": "temporal", "scale": {"type": "utc"}},
  "y": {"datum": 27.12, "type": "quantitative", "scale": {"type": "log"}}, "text": {"value": "27,12"}}},
{"data": {"values": [{}]}, "mark": {"type": "text", "clip": false, "align": "left", "baseline": "middle", "fontSize": 12, "color": "#131722"},
 "encoding": {"x": {"datum": {"year":2025,"month":8,"date":16,"hours":0,"minutes":43,"utc":true}, "type": "temporal", "scale": {"type": "utc"}},
  "y": {"datum": 26.76, "type": "quantitative", "scale": {"type": "log"}}, "text": {"value": "11:41:20"}}},
{"data": {"values": [{}]}, "mark": {"type": "rect", "clip": false, "fill": "#ffffff", "stroke": "#e0e3eb", "strokeWidth": 1, "cornerRadius": 4},
 "encoding": {"x": {"datum": {"year":2025,"month":8,"date":15,"hours":10,"minutes":42,"utc":true}, "type": "temporal", "scale": {"type": "utc"}},
  "x2": {"datum": {"year":2025,"month":8,"date":21,"hours":13,"minutes":55,"utc":true}},
  "y": {"datum": 35.46, "type": "quantitative", "scale": {"type": "log"}}, "y2": {"datum": 34.63}}},
{"data": {"values": [{}]}, "mark": {"type": "text", "clip": false, "align": "center", "baseline": "middle", "fontSize": 12, "color": "#131722"},
 "encoding": {"x": {"datum": {"year":2025,"month":8,"date":17,"hours":20,"minutes":24,"utc":true}, "type": "temporal", "scale": {"type": "utc"}},
  "y": {"datum": 35.05, "type": "quantitative", "scale": {"type": "log"}}, "text": {"value": "USDT"}}},
{"data": {"values": [{}]}, "mark": {"type": "text", "align": "left", "baseline": "middle", "fontSize": 12.3, "color": "#131722"},
 "encoding": {"x": {"datum": {"year":2025,"month":1,"date":18,"hours":15,"utc":true}, "type": "temporal", "scale": {"type": "utc"}},
  "y": {"datum": 35.12, "type": "quantitative", "scale": {"type": "log"}}, "text": {"value": "AVAX / TetherUS · 1T · BINANCE"}}},
{"data": {"values": [{}]}, "mark": {"type": "text", "align": "left", "baseline": "middle", "fontSize": 12.3, "color": "#131722"},
 "encoding": {"x": {"datum": {"year":2025,"month":2,"date":5,"hours":8,"minutes":41,"utc":true}, "type": "temporal", "scale": {"type": "utc"}},
  "y": {"datum": 35.12, "type": "quantitative", "scale": {"type": "log"}}, "text": {"value": "O"}}},
{"data": {"values": [{}]}, "mark": {"type": "text", "align": "left", "baseline": "middle", "fontSize": 12.3, "color": "#089981"},
 "encoding": {"x": {"datum": {"year":2025,"month":2,"date":6,"hours":9,"utc":true}, "type": "temporal", "scale": {"type": "utc"}},
  "y": {"datum": 35.12, "type": "quantitative", "scale": {"type": "log"}}, "text": {"value": "26,06"}}},
{"data": {"values": [{}]}, "mark": {"type": "text", "align": "left", "baseline": "middle", "fontSize": 12.3, "color": "#131722"},
 "encoding": {"x": {"datum": {"year":2025,"month":2,"date":10,"hours":6,"minutes":3,"utc":true}, "type": "temporal", "scale": {"type": "utc"}},
  "y": {"datum": 35.12, "type": "quantitative", "scale": {"type": "log"}}, "text": {"value": "H"}}},
{"data": {"values": [{}]}, "mark": {"type": "text", "align": "left", "baseline": "middle", "fontSize": 12.3, "color": "#089981"},
 "encoding": {"x": {"datum": {"year":2025,"month":2,"date":11,"hours":1,"minutes":36,"utc":true}, "type": "temporal", "scale": {"type": "utc"}},
  "y": {"datum": 35.12, "type": "quantitative", "scale": {"type": "log"}}, "text": {"value": "27,34"}}},
{"data": {"values": [{}]}, "mark": {"type": "text", "align": "left", "baseline": "middle", "fontSize": 12.3, "color": "#131722"},
 "encoding": {"x": {"datum": {"year":2025,"month":2,"date":14,"hours":13,"minutes":36,"utc":true}, "type": "temporal", "scale": {"type": "utc"}},
  "y": {"datum": 35.12, "type": "quantitative", "scale": {"type": "log"}}, "text": {"value": "L"}}},
{"data": {"values": [{}]}, "mark": {"type": "text", "align": "left", "baseline": "middle", "fontSize": 12.3, "color": "#089981"},
 "encoding": {"x": {"datum": {"year":2025,"month":2,"date":15,"hours":3,"minutes":24,"utc":true}, "type": "temporal", "scale": {"type": "utc"}},
  "y": {"datum": 35.12, "type": "quantitative", "scale": {"type": "log"}}, "text": {"value": "25,76"}}},
{"data": {"values": [{}]}, "mark": {"type": "text", "align": "left", "baseline": "middle", "fontSize": 12.3, "color": "#131722"},
 "encoding": {"x": {"datum": {"year":2025,"month":2,"date":18,"hours":7,"minutes":21,"utc":true}, "type": "temporal", "scale": {"type": "utc"}},
  "y": {"datum": 35.12, "type": "quantitative", "scale": {"type": "log"}}, "text": {"value": "C"}}},
{"data": {"values": [{}]}, "mark": {"type": "text", "align": "left", "baseline": "middle", "fontSize": 12.3, "color": "#089981"},
 "encoding": {"x": {"datum": {"year":2025,"month":2,"date":19,"hours":1,"minutes":45,"utc":true}, "type": "temporal", "scale": {"type": "utc"}},
  "y": {"datum": 35.12, "type": "quantitative", "scale": {"type": "log"}}, "text": {"value": "27,12"}}},
{"data": {"values": [{}]}, "mark": {"type": "text", "align": "left", "baseline": "middle", "fontSize": 12.3, "color": "#089981"},
 "encoding": {"x": {"datum": {"year":2025,"month":2,"date":22,"hours":17,"minutes":11,"utc":true}, "type": "temporal", "scale": {"type": "utc"}},
  "y": {"datum": 35.12, "type": "quantitative", "scale": {"type": "log"}}, "text": {"value": "+1,06 (+4,07%)"}}},
{"data": {"values": [{}]}, "mark": {"type": "text", "align": "left", "baseline": "middle", "fontSize": 12.3, "color": "#131722"},
 "encoding": {"x": {"datum": {"year":2025,"month":1,"date":18,"hours":15,"utc":true}, "type": "temporal", "scale": {"type": "utc"}},
  "y": {"datum": 34.59, "type": "quantitative", "scale": {"type": "log"}}, "text": {"value": "Croc 3.0 Chart - Professional (on, off)"}}},
{"data": {"values": [{}]}, "mark": {"type": "text", "align": "left", "baseline": "middle", "fontSize": 12.3, "color": "#0000ff"},
 "encoding": {"x": {"datum": {"year":2025,"month":2,"date":8,"hours":18,"minutes":37,"utc":true}, "type": "temporal", "scale": {"type": "utc"}},
  "y": {"datum": 34.59, "type": "quantitative", "scale": {"type": "log"}}, "text": {"value": "24,94"}}},
{"data": {"values": [{}]}, "mark": {"type": "text", "align": "left", "baseline": "middle", "fontSize": 12.3, "color": "#ff0000"},
 "encoding": {"x": {"datum": {"year":2025,"month":2,"date":12,"hours":14,"minutes":40,"utc":true}, "type": "temporal", "scale": {"type": "utc"}},
  "y": {"datum": 34.59, "type": "quantitative", "scale": {"type": "log"}}, "text": {"value": "22,42"}}},
{"data": {"values": [{}]}, "mark": {"type": "text", "align": "left", "baseline": "middle", "fontSize": 12.3, "color": "#c0c0c0"},
 "encoding": {"x": {"datum": {"year":2025,"month":2,"date":16,"hours":7,"utc":true}, "type": "temporal", "scale": {"type": "utc"}},
  "y": {"datum": 34.59, "type": "quantitative", "scale": {"type": "log"}}, "text": {"value": "27,12"}}},
{"data": {"values": [{}]}, "mark": {"type": "text", "align": "left", "baseline": "middle", "fontSize": 12.3, "color": "#00e600"},
 "encoding": {"x": {"datum": {"year":2025,"month":2,"date":19,"hours":19,"minutes":15,"utc":true}, "type": "temporal", "scale": {"type": "utc"}},
  "y": {"datum": 34.59, "type": "quantitative", "scale": {"type": "log"}}, "text": {"value": "23,68"}}},
{"data": {"values": [{}]}, "mark": {"type": "text", "align": "left", "baseline": "middle", "fontSize": 12.3, "color": "#ff00ff"},
 "encoding": {"x": {"datum": {"year":2025,"month":2,"date":23,"hours":9,"minutes":17,"utc":true}, "type": "temporal", "scale": {"type": "utc"}},
  "y": {"datum": 34.59, "type": "quantitative", "scale": {"type": "log"}}, "text": {"value": "21,48"}}},
{"data": {"values": [{}]}, "mark": {"type": "text", "align": "left", "baseline": "middle", "fontSize": 12.3, "color": "#0000ff"},
 "encoding": {"x": {"datum": {"year":2025,"month":2,"date":27,"hours":3,"minutes":3,"utc":true}, "type": "temporal", "scale": {"type": "utc"}},
  "y": {"datum": 34.59, "type": "quantitative", "scale": {"type": "log"}}, "text": {"value": "21,89"}}},
{"data": {"values": [{}]}, "mark": {"type": "text", "align": "left", "baseline": "middle", "fontSize": 12.3, "color": "#ff0000"},
 "encoding": {"x": {"datum": {"year":2025,"month":3,"date":2,"hours":16,"minutes":10,"utc":true}, "type": "temporal", "scale": {"type": "utc"}},
  "y": {"datum": 34.59, "type": "quantitative", "scale": {"type": "log"}}, "text": {"value": "24,36"}}},
{"data": {"values": [{}]}, "mark": {"type": "text", "align": "left", "baseline": "middle", "fontSize": 12.3, "color": "#00e600"},
 "encoding": {"x": {"datum": {"year":2025,"month":3,"date":6,"hours":7,"minutes":36,"utc":true}, "type": "temporal", "scale": {"type": "utc"}},
  "y": {"datum": 34.59, "type": "quantitative", "scale": {"type": "log"}}, "text": {"value": "24,59"}}},
{"data": {"values": [{}]}, "mark": {"type": "text", "align": "left", "baseline": "middle", "fontSize": 11.8, "color": "#131722"},
 "encoding": {"x": {"datum": {"year":2025,"month":3,"date":9,"hours":20,"utc":true}, "type": "temporal", "scale": {"type": "utc"}},
  "y": {"datum": 34.59, "type": "quantitative", "scale": {"type": "log"}}, "text": {"value": "∅ ∅ ∅ ∅ ∅ ∅ ∅ ∅ ∅ ∅ ∅ ∅ ∅ ∅ ∅ ∅ ∅ ∅ ∅ ∅ ∅ ∅ ∅ ∅ ∅ ∅ ∅ ∅ ∅ ∅ ∅ ∅ ∅ ∅ ∅ ∅"}}},
{"data": {"values": [{}]}, "mark": {"type": "text", "clip": false, "align": "left", "baseline": "middle", "fontSize": 14, "fontWeight": "bold", "color": "#131722"},
 "encoding": {"x": {"datum": {"year":2025,"month":1,"date":17,"hours":20,"minutes":36,"utc":true}, "type": "temporal", "scale": {"type": "utc"}},
  "y": {"datum": 12.575, "type": "quantitative", "scale": {"type": "log"}}, "text": {"value": "TV"}}},
{"data": {"values": [{}]}, "mark": {"type": "text", "clip": false, "align": "left", "baseline": "middle", "fontSize": 13, "color": "#131722"},
 "encoding": {"x": {"datum": {"year":2025,"month":1,"date":20,"hours":1,"minutes":30,"utc":true}, "type": "temporal", "scale": {"type": "utc"}},
  "y": {"datum": 12.575, "type": "quantitative", "scale": {"type": "log"}}, "text": {"value": "TradingView"}}}
]
}
